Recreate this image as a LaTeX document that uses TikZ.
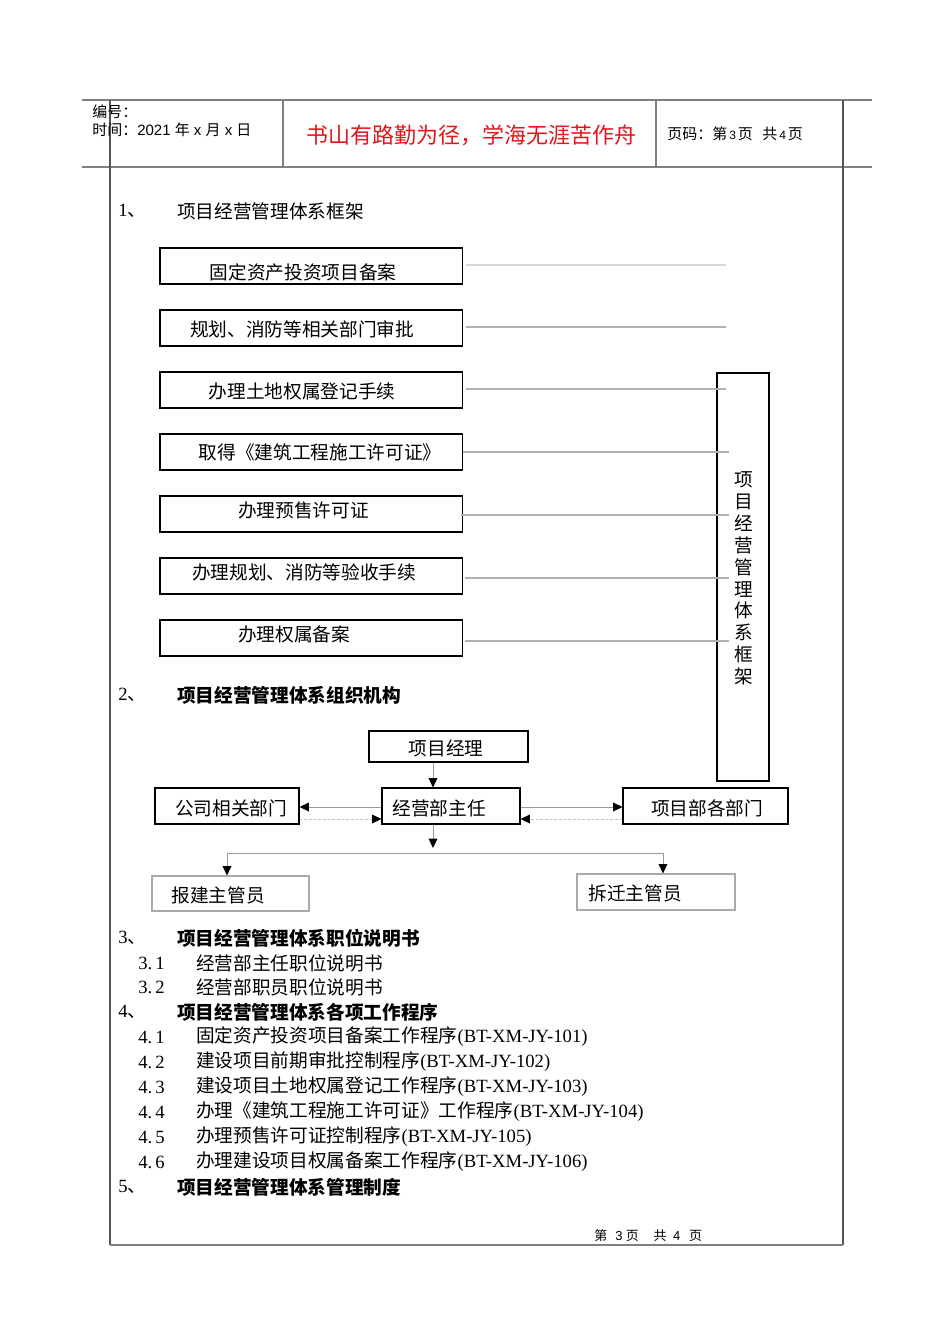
\documentclass[tikz,border=0pt]{standalone}
\usepackage{fontspec}
\setmainfont{Liberation Serif}
\newfontfamily\cjk{Noto Sans CJK SC}
\newfontfamily\lser{Liberation Serif}
\newfontfamily\lsans{Liberation Sans}
\usetikzlibrary{arrows.meta}
\definecolor{hdr}{HTML}{7F7F7F}
\definecolor{frm}{HTML}{555555}
\definecolor{gl}{HTML}{B0B0B0}
\definecolor{gll}{HTML}{D8D8D8}
\definecolor{cl}{HTML}{999999}
\definecolor{dl}{HTML}{C0C0C0}
\definecolor{bxg}{HTML}{AAAAAA}
\definecolor{myred}{HTML}{E3141C}
\newcommand\zh{\cjk\fontsize{14}{16}\selectfont}
\newcommand\zhb{\cjk\bfseries\fontsize{14}{16}\selectfont}
\newcommand\la{\lser\fontsize{14}{16}\selectfont}
\newcommand\hz{\cjk\fontsize{11.25}{13}\selectfont}
\newcommand\hs{\lsans\fontsize{11.25}{13}\selectfont}
\begin{document}
\begin{tikzpicture}[x=0.75pt,y=-0.75pt,
  txt/.style={inner sep=0, anchor=west},
  ctxt/.style={inner sep=0},
  hline/.style={draw=hdr, line width=1.1pt},
  frame/.style={draw=frm, line width=0.9pt},
  fbox/.style={draw=black, line width=0.8pt, minimum width=226.9pt, minimum height=27pt, inner sep=0},
  obox/.style={draw=black, line width=0.8pt, inner sep=0},
  gbox/.style={draw=bxg, line width=0.8pt, inner sep=0},
  gline/.style={draw=gl, line width=0.9pt},
  arr/.style={draw=cl, line width=0.6pt, -{Triangle[length=7pt,width=6.5pt,color=black]}},
  darr/.style={draw=dl, line width=0.6pt, dash pattern=on 2pt off 1.5pt, -{Triangle[length=7pt,width=6.5pt,color=black]}},
  pline/.style={draw=cl, line width=0.6pt}
]
\useasboundingbox (0,0) rectangle (950,1344);
\fill[white] (0,0) rectangle (950,1344);

% header table
\draw[hline] (82,100) -- (872,100);
\draw[hline] (82,167) -- (872,167);
\draw[hline] (283,100) -- (283,167);
\draw[hline] (656,100) -- (656,167);
\draw[frame] (110,100) -- (110,1245);
\draw[frame] (843,100) -- (843,1245);
\draw[draw=hdr, line width=1.4pt] (110,1245) -- (843,1245);

\node[txt] (bh) at (92,112) {\hz 编号：};
\node[txt] (sj) at (92,130) {\hz 时间：\hs 2021 \hz 年\hs{} x \hz 月\hs{} x \hz 日};
\node[ctxt, text=myred] (ti) at (471,135) {\cjk\fontsize{16.5}{18}\selectfont 书山有路勤为径，学海无涯苦作舟};
\node[txt] (ym) at (667,134) {\hz 页码：第\hspace{1.5pt}\hs\fontsize{9}{10}\selectfont 3\hspace{1.5pt}\hz 页\hspace{7pt}共\hspace{1.5pt}\hs\fontsize{9}{10}\selectfont 4\hspace{1.5pt}\hz 页};

% section 1
\node[txt] (n1) at (118,211) {\la 1\zh 、};
\node[txt] (h1) at (177,211) {\zh 项目经营管理体系框架};

\node[fbox] (b1) at (311.25,266) {};
\node[fbox] (b2) at (311.25,328) {};
\node[fbox] (b3) at (311.25,390) {};
\node[fbox] (b4) at (311.25,452) {};
\node[fbox] (b5) at (311.25,514) {};
\node[fbox] (b6) at (311.25,576) {};
\node[fbox] (b7) at (311.25,638) {};

\node[ctxt] (t1) at (303,272) {\zh 固定资产投资项目备案};
\node[ctxt] (t2) at (302,329) {\zh 规划、消防等相关部门审批};
\node[ctxt] (t3) at (302,391) {\zh 办理土地权属登记手续};
\node[ctxt] (t4) at (320,452) {\zh 取得《建筑工程施工许可证》};
\node[txt]  (t5) at (238,510) {\zh 办理预售许可证};
\node[ctxt] (t6) at (304,572) {\zh 办理规划、消防等验收手续};
\node[txt]  (t7) at (238,634) {\zh 办理权属备案};

\node[obox, minimum width=39pt, minimum height=306pt] (tb) at (743,577) {};
\node[ctxt, align=center, font={\cjk\fontsize{14}{16.4}\selectfont}] (vt) at (744,578.5) {项\\目\\经\\营\\管\\理\\体\\系\\框\\架};

\coordinate (e1) at (726,265);
\coordinate (e2) at (726,327);
\coordinate (e3) at (726,389);
\coordinate (e4) at (729,452);
\coordinate (e5) at (729,515);
\coordinate (e6) at (729,578);
\coordinate (e7) at (729,641);
\draw[draw=gll, line width=2.2pt] ([xshift=2.5pt]b1.east |- e1) -- (e1);
\draw[gline] ([xshift=2.5pt]b2.east |- e2) -- (e2);
\draw[gline] ([xshift=2.5pt]b3.east |- e3) -- (e3);
\draw[gline] (b4.east |- e4) -- (e4);
\draw[gline] ([xshift=-1.5pt]b5.east |- e5) -- (e5);
\draw[gline] ([xshift=1.5pt]b6.east |- e6) -- (e6);
\draw[gline] ([xshift=1.5pt]b7.east |- e7) -- (e7);

% section 2
\node[txt] (n2) at (118,695) {\la 2\zh 、};
\node[txt] (h2) at (177,695) {\zhb 项目经营管理体系组织机构};

\node[obox, minimum width=119.25pt, minimum height=23.25pt] (pm) at (448.5,746.5) {};
\node[obox, minimum width=103.5pt, minimum height=27pt] (jy) at (451,806) {};
\node[obox, minimum width=108pt, minimum height=27pt] (gs) at (227,806) {};
\node[obox, minimum width=123.75pt, minimum height=27pt] (xb) at (705.5,806) {};
\node[gbox, minimum width=117.75pt, minimum height=26.25pt] (bj) at (230.5,893.5) {};
\node[gbox, minimum width=118.5pt, minimum height=27pt] (cq) at (656,892) {};

\node[ctxt] (pmt) at (446,748) {\zh 项目经理};
\node[ctxt] (jyt) at (439,808) {\zh 经营部主任};
\node[ctxt] (gst) at (231,808) {\zh 公司相关部门};
\node[ctxt] (xbt) at (707,808) {\zh 项目部各部门};
\node[ctxt] (bjt) at (218,895) {\zh 报建主管员};
\node[ctxt] (cqt) at (635,893) {\zh 拆迁主管员};

\coordinate (cx) at (433,0);
\coordinate (r1) at (0,807);
\coordinate (r2) at (0,819);
\coordinate (cxa) at (433,848);
\coordinate (hl) at (227,853);
\coordinate (hr) at (663,853);

\draw[arr] (pm.south -| cx) -- (jy.north -| cx);
\draw[arr] (jy.west |- r1) -- (gs.east |- r1);
\draw[darr] (gs.east |- r2) -- (jy.west |- r2);
\draw[arr] (jy.east |- r1) -- (xb.west |- r1);
\draw[darr] (xb.west |- r2) -- (jy.east |- r2);
\draw[arr] (jy.south -| cx) -- (cxa);
\draw[pline] (hl) -- (hr);
\draw[arr] (hl) -- (bj.north -| hl);
\draw[arr] (hr) -- (cq.north -| hr);

% section 3
\node[txt] (n3) at (118,938) {\la 3\zh 、};
\node[txt] (h3) at (177,938) {\zhb 项目经营管理体系职位说明书};
\node[txt] (n31) at (138,963) {\la 3.\,1};
\node[txt] (l31) at (196,963) {\zh 经营部主任职位说明书};
\node[txt] (n32) at (138,987) {\la 3.\,2};
\node[txt] (l32) at (196,987) {\zh 经营部职员职位说明书};

% section 4
\node[txt] (n4) at (118,1012) {\la 4\zh 、};
\node[txt] (h4) at (177,1012) {\zhb 项目经营管理体系各项工作程序};
\node[txt] (n41) at (138,1037) {\la 4.\,1};
\node[txt] (l41) at (196,1037) {\zh 固定资产投资项目备案工作程序\la (BT-XM-JY-101)};
\node[txt] (n42) at (138,1062) {\la 4.\,2};
\node[txt] (l42) at (196,1062) {\zh 建设项目前期审批控制程序\la (BT-XM-JY-102)};
\node[txt] (n43) at (138,1087) {\la 4.\,3};
\node[txt] (l43) at (196,1087) {\zh 建设项目土地权属登记工作程序\la (BT-XM-JY-103)};
\node[txt] (n44) at (138,1112) {\la 4.\,4};
\node[txt] (l44) at (196,1112) {\zh 办理《建筑工程施工许可证》工作程序\la (BT-XM-JY-104)};
\node[txt] (n45) at (138,1137) {\la 4.\,5};
\node[txt] (l45) at (196,1137) {\zh 办理预售许可证控制程序\la (BT-XM-JY-105)};
\node[txt] (n46) at (138,1162) {\la 4.\,6};
\node[txt] (l46) at (196,1162) {\zh 办理建设项目权属备案工作程序\la (BT-XM-JY-106)};

% section 5
\node[txt] (n5) at (118,1187) {\la 5\zh 、};
\node[txt] (h5) at (177,1187) {\zhb 项目经营管理体系管理制度};

% footer
\node[txt] (ft) at (594,1236) {\cjk\fontsize{9.75}{11}\selectfont 第\hspace{6pt}\lsans 3\hspace{2.5pt}\cjk 页\hspace{11pt}共\hspace{5pt}\lsans 4\hspace{6.5pt}\cjk 页};
\end{tikzpicture}
\end{document}
